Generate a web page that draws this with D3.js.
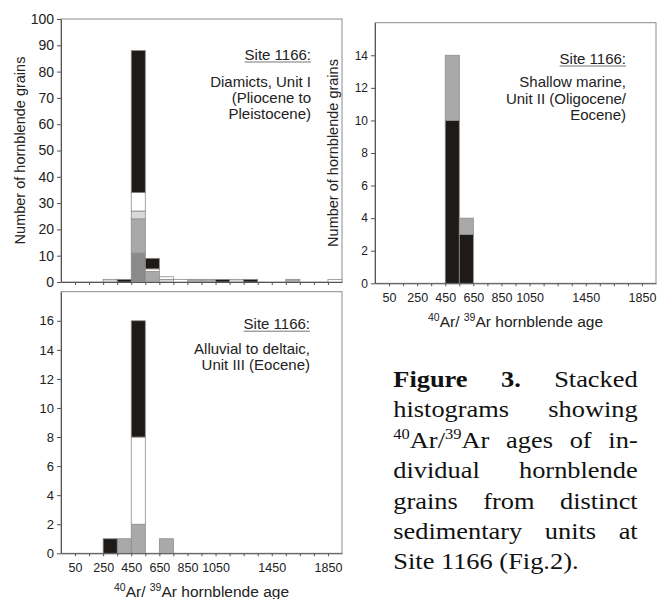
<!DOCTYPE html>
<html>
<head>
<meta charset="utf-8">
<script src="https://cdn.jsdelivr.net/npm/d3@7"></script>
<style>
body { margin: 0; background: #fff; }
svg { display: block; }
.sans { font-family: "Liberation Sans", Arial, sans-serif; }
.serif { font-family: "Liberation Serif", "Times New Roman", serif; }
</style>
</head>
<body>
<svg id="fig" width="657" height="599"></svg>
<script>
// 100 Ma bins, each given by its lower edge
var binStarts = d3.range(-50, 1950, 100);
var groupKeys = ["dark", "medium", "light", "white", "black"];
var groupColors = { dark: "#8a8a8a", medium: "#a9a9a9", light: "#d9d9d9", white: "#ffffff", black: "#1e1a18" };
var xTickLabels = [50, 250, 450, 650, 850, 1050, 1450, 1850];

// Unit I (diamicts)
var unit1Dark   = [0,0,0,0,0,11,0,0,0,0,0,0,0,0,0,0,0,0,0,0];
var unit1Medium = [0,0,0,0,0,13,4,0,0,1,1,0,0,0,0,0,1,0,0,0];
var unit1Light  = [0,0,0,1,0,3,0,1,0,0,0,0,1,0,0,0,0,0,0,0];
var unit1White  = [0,0,0,0,0,7,1,1,1,0,0,0,0,0,0,0,0,0,0,1];
var unit1Black  = [0,0,0,0,1,54,4,0,0,0,0,1,0,1,0,0,0,0,0,0];

// Unit II (shallow marine), grey sits on top of black here
var unit2Medium = [0,0,0,0,0,4,1,0,0,0,0,0,0,0,0,0,0,0,0,0];
var unit2Black  = [0,0,0,0,0,10,3,0,0,0,0,0,0,0,0,0,0,0,0,0];

// Unit III (alluvial to deltaic)
var unit3Medium = [0,0,0,0,1,2,0,1,0,0,0,0,0,0,0,0,0,0,0,0];
var unit3White  = [0,0,0,0,0,6,0,0,0,0,0,0,0,0,0,0,0,0,0,0];
var unit3Black  = [0,0,0,1,0,8,0,0,0,0,0,0,0,0,0,0,0,0,0,0];

var unit1Text = ["Site 1166:", "Diamicts, Unit I", "(Pliocene to", "Pleistocene)"];
var unit2Text = ["Site 1166:", "Shallow marine,", "Unit II (Oligocene/", "Eocene)"];
var unit3Text = ["Site 1166:", "Alluvial to deltaic,", "Unit III (Eocene)"];

var svg = d3.select("#fig");

var panels = [
	{ x0: 61, x1: 342, y0: 19, y1: 282, ymax: 100, yticks: d3.range(0, 101, 10), ytickSize: 14,
	  keys: groupKeys,
	  data: { dark: unit1Dark, medium: unit1Medium, light: unit1Light, white: unit1White, black: unit1Black },
	  xlabels: false, text: unit1Text, tx: 311, ty: [59.5, 87, 103, 118.7],
	  ytitle: { x: 20, y: 150.5 } },
	{ x0: 375, x1: 656, y0: 22.7, y1: 283.3, ymax: 16, yticks: d3.range(0, 15, 2), ytickSize: 12,
	  keys: ["black", "medium"],
	  data: { medium: unit2Medium, black: unit2Black },
	  xlabels: true, text: unit2Text, tx: 626, ty: [63.5, 87, 104, 120],
	  ytitle: { x: 333, y: 153 } },
	{ x0: 61, x1: 342, y0: 291.7, y1: 553.3, ymax: 18, yticks: d3.range(0, 17, 2), ytickSize: 13,
	  keys: ["medium", "white", "black"],
	  data: { medium: unit3Medium, white: unit3White, black: unit3Black },
	  xlabels: true, text: unit3Text, tx: 310, ty: [328.7, 353.7, 370.4],
	  ytitle: null }
];

panels.forEach(drawPanel);

function drawPanel(p)
{
	var g = svg.append("g").attr("class", "sans");
	var x = d3.scaleLinear().domain([-50, 1950]).range([p.x0, p.x1]);
	var y = d3.scaleLinear().domain([0, p.ymax]).range([p.y1, p.y0]);

	// frame
	g.append("rect")
		.attr("x", p.x0).attr("y", p.y0)
		.attr("width", p.x1 - p.x0).attr("height", p.y1 - p.y0)
		.attr("fill", "none").attr("stroke", "#8c8c8c").attr("stroke-width", 1);

	// stacked bars
	var rows = binStarts.map(function(b, i) {
		var r = { bin: b };
		p.keys.forEach(function(k) { r[k] = p.data[k][i]; });
		return r;
	});
	var layers = d3.stack().keys(p.keys)(rows);

	layers.forEach(function(layer) {
		g.selectAll(null)
			.data(layer.filter(function(d) { return d[1] > d[0]; }))
			.enter().append("rect")
			.attr("x", function(d) { return x(d.data.bin); })
			.attr("width", function(d) { return x(d.data.bin + 100) - x(d.data.bin); })
			.attr("y", function(d) { return y(d[1]); })
			.attr("height", function(d) { return y(d[0]) - y(d[1]); })
			.attr("fill", groupColors[layer.key])
			.attr("stroke", "#8c8c8c")
			.attr("stroke-width", 0.8);
	});

	// y axis
	var ya = g.append("g")
		.attr("transform", "translate(" + p.x0 + ",0)")
		.call(d3.axisLeft(y).tickValues(p.yticks).tickSize(4).tickSizeOuter(0).tickPadding(3));
	ya.attr("font-family", null);
	ya.selectAll("text").attr("font-size", p.ytickSize).attr("fill", "#222");

	// x axis
	var xa = g.append("g")
		.attr("transform", "translate(0," + p.y1 + ")")
		.call(d3.axisBottom(x)
			.tickValues(d3.range(50, 1950, 100))
			.tickSize(3).tickSizeOuter(0).tickPadding(7)
			.tickFormat(function(v) { return p.xlabels && xTickLabels.indexOf(v) >= 0 ? v : ""; }));
	xa.attr("font-family", null);
	xa.selectAll("text").attr("font-size", 12.5).attr("fill", "#222");

	g.selectAll(".domain").attr("stroke", "#555");
	g.selectAll(".tick line").attr("stroke", "#555");

	// x title
	if (p.xlabels) {
		var t = g.append("text")
			.attr("x", (p.x0 + p.x1) / 2).attr("y", p.y1 + 44)
			.attr("text-anchor", "middle")
			.attr("font-size", 15.5).attr("fill", "#222");
		t.append("tspan").attr("font-size", 10.5).attr("dy", -6).text("40");
		t.append("tspan").attr("dy", 6).text("Ar/ ");
		t.append("tspan").attr("font-size", 10.5).attr("dy", -6).text("39");
		t.append("tspan").attr("dy", 6).text("Ar hornblende age");
	}

	// y title
	if (p.ytitle) {
		g.append("text")
			.attr("transform", "translate(" + p.ytitle.x + "," + p.ytitle.y + ") rotate(-90)")
			.attr("text-anchor", "middle")
			.attr("dy", "0.35em")
			.attr("font-size", 14.5).attr("fill", "#222")
			.text("Number of hornblende grains");
	}

	// site label
	p.text.forEach(function(s, i) {
		var tt = g.append("text")
			.attr("x", p.tx).attr("y", p.ty[i])
			.attr("text-anchor", "end")
			.attr("font-size", 15).attr("fill", "#222")
			.text(s);
		if (i == 0) {
			var w = tt.node().getComputedTextLength();
			g.append("line")
				.attr("x1", p.tx - w).attr("x2", p.tx)
				.attr("y1", p.ty[i] + 2.5).attr("y2", p.ty[i] + 2.5)
				.attr("stroke", "#777").attr("stroke-width", 1);
		}
	});
}

// caption, justified lines
var captionLines = [
	[[["Figure", "b"]], [["3.", "b"]], [["Stacked"]]],
	[[["histograms"]], [["showing"]]],
	[[["40", "s"], ["Ar/"], ["39", "s"], ["Ar"]], [["ages"]], [["of"]], [["in-"]]],
	[[["dividual"]], [["hornblende"]]],
	[[["grains"]], [["from"]], [["distinct"]]],
	[[["sedimentary"]], [["units"]], [["at"]]],
	[[["Site"]], [["1166"]], [["(Fig.2)."]]]
];

var capLeft = 393.3, capRight = 637.7, capScale = 1.1,
	capTop = 387, capStep = 30.4,
	capWidth = (capRight - capLeft) / capScale;

var cap = svg.append("g")
	.attr("class", "serif")
	.attr("transform", "translate(" + capLeft + ",0) scale(" + capScale + ",1)")
	.attr("font-size", 24)
	.attr("fill", "#111");

captionLines.forEach(function(words, li) {
	var by = capTop + li * capStep;
	var nodes = words.map(function(segs) {
		var t = cap.append("text").attr("y", by);
		segs.forEach(function(s) {
			var ts = t.append("tspan").text(s[0]);
			if (s[1] == "b") ts.attr("font-weight", "bold");
			if (s[1] == "s") ts.attr("font-size", 15).attr("baseline-shift", "9");
		});
		return t;
	});
	var widths = nodes.map(function(t) { return t.node().getComputedTextLength(); });
	var total = d3.sum(widths);
	var last = li == captionLines.length - 1;
	var gap = last ? 6 : (capWidth - total) / (nodes.length - 1);
	var cx = 0;
	nodes.forEach(function(t, i) {
		t.attr("x", cx);
		cx += widths[i] + gap;
	});
});
</script>
</body>
</html>
